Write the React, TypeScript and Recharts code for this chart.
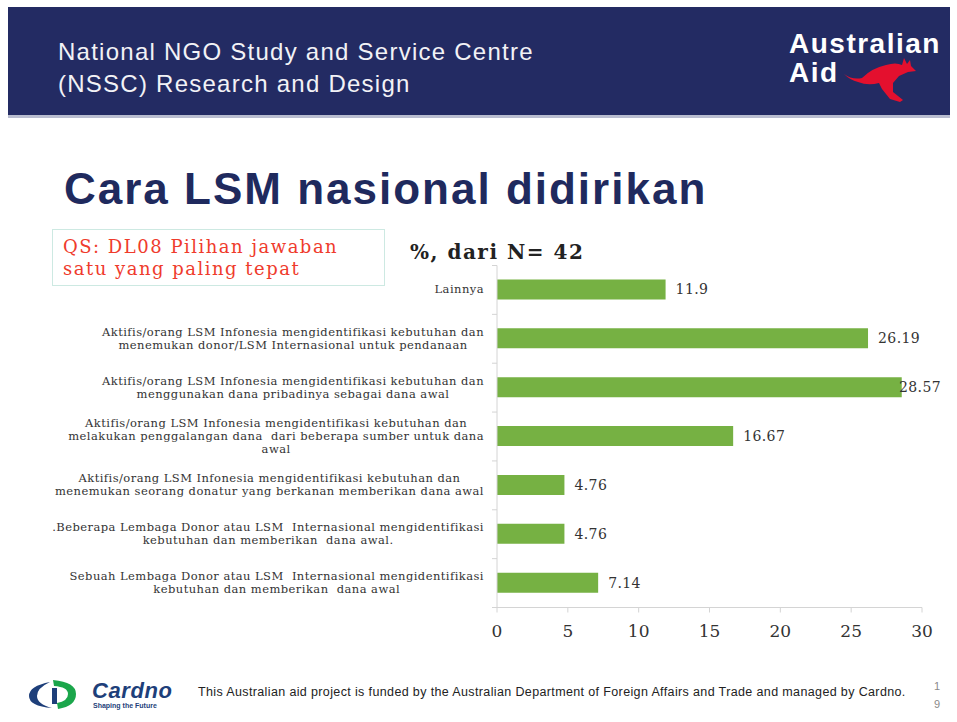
import { BarChart, Bar, XAxis, YAxis, LabelList } from 'recharts'

const NAVY = '#232b63'
const GREEN = '#76b143'
const TEXT = '#333333'
const AXIS = '#d4d4d4'

const categories = [
  'Lainnya',
  'Aktifis/orang LSM Infonesia mengidentifikasi kebutuhan dan\nmenemukan donor/LSM Internasional untuk pendanaan',
  'Aktifis/orang LSM Infonesia mengidentifikasi kebutuhan dan\nmenggunakan dana pribadinya sebagai dana awal',
  'Aktifis/orang LSM Infonesia mengidentifikasi kebutuhan dan\nmelakukan penggalangan dana  dari beberapa sumber untuk dana\nawal',
  'Aktifis/orang LSM Infonesia mengidentifikasi kebutuhan dan\nmenemukan seorang donatur yang berkanan memberikan dana awal',
  '.Beberapa Lembaga Donor atau LSM  Internasional mengidentifikasi\nkebutuhan dan memberikan  dana awal.',
  'Sebuah Lembaga Donor atau LSM  Internasional mengidentifikasi\nkebutuhan dan memberikan  dana awal',
]
const values = [11.9, 26.19, 28.57, 16.67, 4.76, 4.76, 7.14]
const xTicks = [0, 5, 10, 15, 20, 25, 30]

const data = categories.map((name, i) => ({ name, value: values[i] }))

// layout
const W = 957
const H = 722
const M = { top: 265.5, right: 35, bottom: 84.5, left: 40 }
const Y_AXIS_W = 457
const X_AXIS_H = 30
const PLOT_LEFT = M.left + Y_AXIS_W
const PLOT_H = H - M.top - M.bottom - X_AXIS_H
const BAND = PLOT_H / categories.length
const LABEL_MAX_X = 899

const serif = '"DejaVu Serif", serif'
const sans = '"Liberation Sans", Arial, sans-serif'

function CategoryTick(props: any) {
  const { x, y, payload, index } = props
  const lines = String(payload.value)
  return (
    <g>
      <line x1={PLOT_LEFT - 5} x2={PLOT_LEFT} y1={y - BAND / 2} y2={y - BAND / 2} stroke={AXIS} />
      {index === categories.length - 1 && (
        <line x1={PLOT_LEFT - 5} x2={PLOT_LEFT} y1={y + BAND / 2} y2={y + BAND / 2} stroke={AXIS} />
      )}
      <foreignObject x={x - 470} y={y - 30} width={470} height={60}>
        <div
          style={{
            width: 470,
            height: 60,
            display: 'flex',
            justifyContent: 'flex-end',
            alignItems: 'center',
          }}
        >
          <div
            style={{
              textAlign: 'center',
              whiteSpace: 'pre',
              fontFamily: serif,
              fontSize: 11.5,
              letterSpacing: 0.45,
              lineHeight: '13px',
              color: TEXT,
            }}
          >
            {lines}
          </div>
        </div>
      </foreignObject>
    </g>
  )
}

function ValueLabel(props: any) {
  const { x, y, width, height, value } = props
  const lx = Math.min(x + width + 10, LABEL_MAX_X)
  return (
    <text
      x={lx}
      y={y + height / 2}
      dy="0.35em"
      fontFamily={serif}
      fontSize={14}
      letterSpacing={0.4}
      fill={TEXT}
    >
      {value}
    </text>
  )
}

function Kangaroo() {
  return (
    <svg width={80} height={50} viewBox="840 56 80 50" style={{ position: 'absolute', left: 840, top: 56 }}>
      <path
        d="M844,74 Q852,80 862,78 Q872,68 886,65 Q896,62 902,65 L904,58 L907,64 L910,60 L911,66 L916,71 L908,72 L899,76 L893,83 L893,92 L903,100 L900,102 L890,99 L882,89 L879,83 Q868,86 858,82 Q850,80 844,74 Z"
        fill="#e4102e"
      />
    </svg>
  )
}

function CardnoLogo() {
  return (
    <div style={{ position: 'absolute', left: 26, top: 679, width: 170, height: 34 }}>
      <svg width={56} height={32} style={{ position: 'absolute', left: 0, top: 0 }}>
        <path d="M24,3 Q3,7 3,17 Q3,27 26,29 Q11,25 11,17 Q11,9 24,3 Z" fill="#1e3f7a" />
        <path d="M27,1 Q50,3 50,15 Q50,27 32,30 L31,24 Q42,22 42,15 Q42,8 28,7 Z" fill="#1ba64b" />
        <path d="M26,9 L31,9 L31,25 L26,25 Z" fill="#1e3f7a" />
      </svg>
      <div
        style={{
          position: 'absolute',
          left: 66,
          top: 1,
          fontFamily: sans,
          fontWeight: 700,
          fontStyle: 'italic',
          fontSize: 22,
          letterSpacing: 0.6,
          color: '#1e3f7a',
          lineHeight: '22px',
        }}
      >
        Cardno
      </div>
      <div
        style={{
          position: 'absolute',
          left: 67,
          top: 23,
          fontFamily: sans,
          fontSize: 7,
          color: '#1e3f7a',
          lineHeight: '8px',
          fontWeight: 700,
        }}
      >
        Shaping the Future
      </div>
    </div>
  )
}

export default function App() {
  return (
    <div
      style={{
        position: 'absolute',
        left: 0,
        top: 0,
        width: W,
        height: H,
        background: '#ffffff',
        overflow: 'hidden',
      }}
    >
      {/* header band */}
      <div style={{ position: 'absolute', left: 8, top: 7, width: 942, height: 108, background: NAVY }} />
      <div style={{ position: 'absolute', left: 8, top: 115, width: 942, height: 3, background: '#b9bdd0' }} />
      <div
        style={{
          position: 'absolute',
          left: 58,
          top: 36,
          fontFamily: sans,
          fontSize: 24,
          lineHeight: '32px',
          letterSpacing: 1.25,
          color: '#f2f2f6',
        }}
      >
        National NGO Study and Service Centre
        <br />
        (NSSC) Research and Design
      </div>
      <div
        style={{
          position: 'absolute',
          left: 789,
          top: 29,
          fontFamily: sans,
          fontWeight: 700,
          fontSize: 28,
          lineHeight: '29px',
          color: '#ffffff',
          letterSpacing: 1.5,
        }}
      >
        Australian
        <br />
        Aid
      </div>
      <Kangaroo />

      {/* title */}
      <div
        style={{
          position: 'absolute',
          left: 64,
          top: 162,
          fontFamily: sans,
          fontWeight: 700,
          fontSize: 44,
          lineHeight: '54px',
          letterSpacing: 2,
          color: '#1f2a5e',
        }}
      >
        Cara LSM nasional didirikan
      </div>

      {/* question box */}
      <div
        style={{
          position: 'absolute',
          left: 52,
          top: 229,
          width: 333,
          height: 57,
          border: '1.5px solid #cde9e2',
          boxSizing: 'border-box',
          padding: '6px 0 0 10px',
          fontFamily: serif,
          fontSize: 18,
          letterSpacing: 1.5,
          lineHeight: '22px',
          color: '#ef3b2c',
        }}
      >
        QS: DL08 Pilihan jawaban
        <br />
        satu yang paling tepat
      </div>

      <div
        style={{
          position: 'absolute',
          left: 410,
          top: 240,
          fontFamily: serif,
          fontWeight: 700,
          fontSize: 20,
          letterSpacing: 1.5,
          lineHeight: '24px',
          color: '#222222',
        }}
      >
        %, dari N= 42
      </div>

      <div style={{ position: 'absolute', left: 0, top: 0 }}>
        <BarChart width={W} height={H} data={data} layout="vertical" margin={M}>
          <XAxis
            type="number"
            domain={[0, 30]}
            ticks={xTicks}
            interval={0}
            height={X_AXIS_H}
            axisLine={{ stroke: AXIS }}
            tickLine={{ stroke: AXIS }}
            tickSize={5}
            tickMargin={12}
            tick={{ fill: TEXT, fontSize: 17, fontFamily: serif }}
          />
          <YAxis
            type="category"
            dataKey="name"
            width={Y_AXIS_W}
            axisLine={{ stroke: AXIS }}
            tickLine={false}
            tickSize={0}
            tickMargin={13}
            interval={0}
            tick={<CategoryTick />}
          />
          <Bar dataKey="value" fill={GREEN} barSize={20} isAnimationActive={false}>
            <LabelList dataKey="value" content={<ValueLabel />} />
          </Bar>
        </BarChart>
      </div>

      {/* footer */}
      <CardnoLogo />
      <div
        style={{
          position: 'absolute',
          left: 198,
          top: 685,
          fontFamily: sans,
          fontSize: 12.5,
          lineHeight: '15px',
          color: '#222222',
          letterSpacing: 0.37,
          whiteSpace: 'nowrap',
        }}
      >
        This Australian aid project is funded by the Australian Department of Foreign Affairs and Trade and managed by Cardno.
      </div>
      <div
        style={{
          position: 'absolute',
          left: 934,
          top: 677,
          fontFamily: sans,
          fontSize: 11,
          lineHeight: '18px',
          color: '#8a8a8a',
          textAlign: 'center',
        }}
      >
        1
        <br />
        9
      </div>
    </div>
  )
}
